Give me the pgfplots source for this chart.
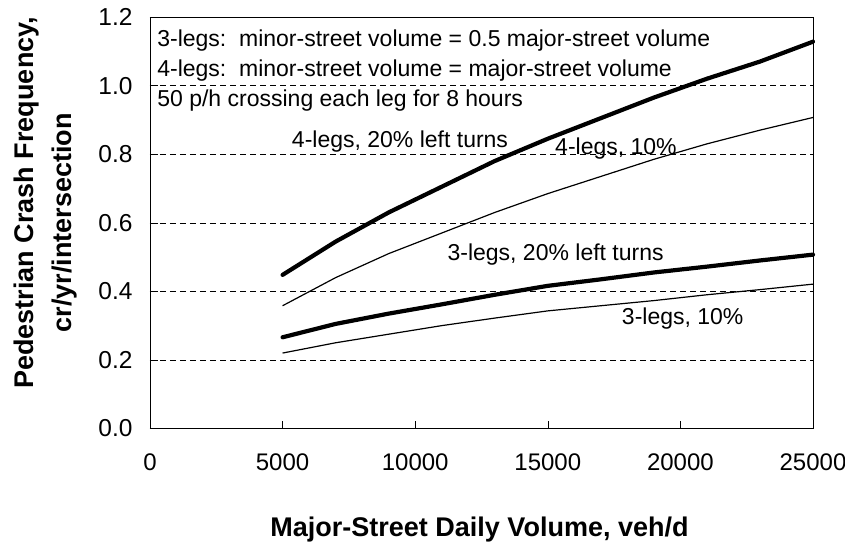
\documentclass[border=0pt]{standalone}
\usepackage{pgfplots}
\pgfplotsset{compat=1.18}
\usepackage{fontspec}
\setmainfont{Liberation Sans}
\begin{document}
\begin{tikzpicture}[x=1pt,y=1pt]
\begin{axis}[
  at={(0,0)}, anchor=south west,
  scale only axis,
  width=663pt, height=411.5pt,
  xmin=0, xmax=25000, ymin=0, ymax=1.2,
  xtick={0,5000,10000,15000,20000,25000},
  ytick={0,0.2,0.4,0.6,0.8,1.0,1.2},
  yticklabels={0.0,0.2,0.4,0.6,0.8,1.0,1.2},
  scaled x ticks=false,
  xticklabel style={/pgf/number format/1000 sep={}, font=\fontsize{24}{26}\selectfont, yshift=-22pt},
  yticklabel style={font=\fontsize{24.5}{26}\selectfont, xshift=-14pt},
  /pgf/number format/assume math mode=true,
  tick align=inside,
  major tick length=8pt,
  tick style={black, thin},
  xtick pos=bottom, ytick pos=left,
  ymajorgrids,
  major grid style={black, thin, dash pattern=on 6pt off 4pt},
  axis line style={black, thin},
  xlabel={\textbf{Major-Street Daily Volume, veh/d}},
  ylabel={\hspace*{40pt}\textbf{Pedestrian Crash Frequency,}\\\textbf{cr/yr/intersection}},
  ylabel style={align=center, font=\fontsize{27}{38}\selectfont, at={(axis description cs:-0.1576,0.5)}, anchor=center},
  xlabel style={font=\fontsize{27}{30}\selectfont, at={(axis description cs:0.497,0)}, anchor=base, yshift=-107.5pt},
  clip=false,
]
\addplot[black, line width=4.2pt, line cap=round, line join=round] coordinates {
(5000,0.448) (7000,0.545) (9000,0.63) (11000,0.705) (13000,0.78) (15000,0.845)
(17000,0.905) (19000,0.965) (21000,1.02) (23000,1.07) (25000,1.128)};
\addplot[black, line width=1.2pt] coordinates {
(5000,0.358) (7000,0.44) (9000,0.51) (11000,0.57) (13000,0.63) (15000,0.685)
(17000,0.735) (19000,0.785) (21000,0.83) (23000,0.87) (25000,0.907)};
\addplot[black, line width=4.2pt, line cap=round, line join=round] coordinates {
(5000,0.266) (7000,0.305) (9000,0.335) (11000,0.362) (13000,0.39) (15000,0.416)
(17000,0.435) (19000,0.455) (21000,0.472) (23000,0.49) (25000,0.507)};
\addplot[black, line width=1.2pt] coordinates {
(5000,0.22) (7000,0.25) (9000,0.275) (11000,0.30) (13000,0.322) (15000,0.343)
(17000,0.358) (19000,0.373) (21000,0.39) (23000,0.405) (25000,0.421)};
\node[anchor=base west, font=\fontsize{23}{25}\selectfont, inner sep=0pt] at (axis cs:270,1.1134) {3-legs:\ \ minor-street volume = 0.5 major-street volume};
\node[anchor=base west, font=\fontsize{23}{25}\selectfont, inner sep=0pt] at (axis cs:270,1.0259) {4-legs:\ \ minor-street volume = major-street volume};
\node[anchor=base west, font=\fontsize{23}{25}\selectfont, inner sep=0pt] at (axis cs:270,0.9384) {50 p/h crossing each leg for 8 hours};
\node[anchor=base, font=\fontsize{23}{25}\selectfont, inner sep=0pt] at (axis cs:9427,0.819) {4-legs, 20\% left turns};
\node[anchor=base, font=\fontsize{23}{25}\selectfont, inner sep=0pt] at (axis cs:17570,0.80) {4-legs, 10\%};
\node[anchor=base, font=\fontsize{23}{25}\selectfont, inner sep=0pt] at (axis cs:15295,0.49) {3-legs, 20\% left turns};
\node[anchor=base, font=\fontsize{23}{25}\selectfont, inner sep=0pt] at (axis cs:20087,0.303) {3-legs, 10\%};
\end{axis}
\pgfresetboundingbox
\path[use as bounding box] (-150,-114.5) rectangle (695,428.5);
\end{tikzpicture}
\end{document}
